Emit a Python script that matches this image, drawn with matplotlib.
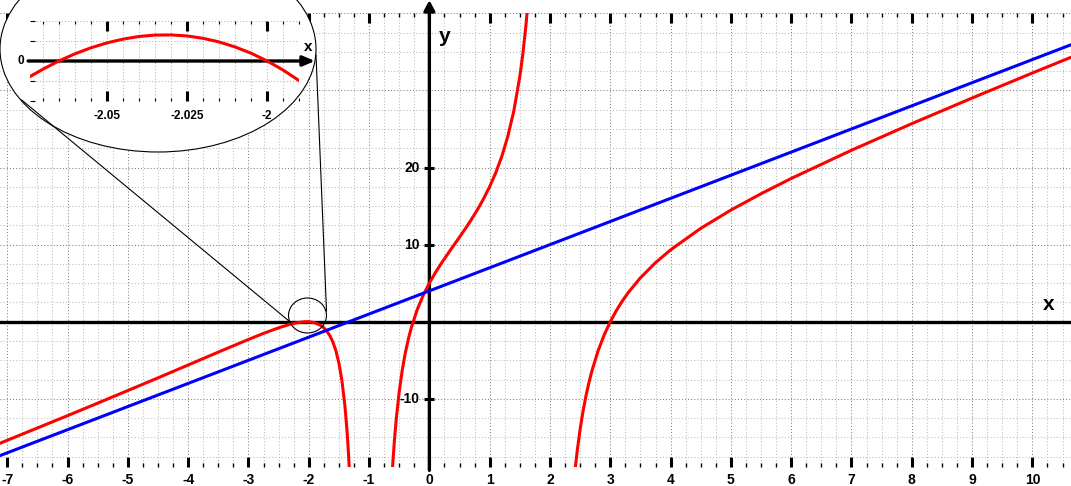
import matplotlib
matplotlib.use('Agg')
import matplotlib.pyplot as plt
from matplotlib.ticker import MultipleLocator
from matplotlib.patches import Ellipse
from matplotlib.lines import Line2D

plt.rcParams['font.family'] = ['Liberation Sans', 'DejaVu Sans']
plt.rcParams['axes.unicode_minus'] = False

# red curve, three branches
left_x = [-7.12, -6.5, -6.0, -5.5, -5.0, -4.5, -4.0, -3.5, -3.0, -2.75, -2.5, -2.3,
          -2.15, -2.065, -2.033, -2.0, -1.9, -1.8, -1.75, -1.7, -1.65, -1.6, -1.55,
          -1.5, -1.45, -1.4, -1.37, -1.355, -1.34, -1.32]
left_y = [-15.76, -13.78, -12.18, -10.56, -8.92, -7.28, -5.61, -3.94, -2.30, -1.51, -0.79, -0.31,
          -0.07, 0.0, 0.01, 0.0, -0.13, -0.48, -0.79, -1.22, -1.81, -2.63, -3.77,
          -5.36, -7.63, -10.94, -13.69, -15.35, -17.27, -20.28]

mid_x = [-0.62, -0.61, -0.58, -0.55, -0.5, -0.45, -0.4, -0.35, -0.3, -0.2, -0.1, 0.0,
         0.1, 0.2, 0.3, 0.4, 0.5, 0.6, 0.7, 0.8, 0.9, 1.0, 1.1, 1.2, 1.3, 1.4,
         1.5, 1.55, 1.6, 1.63]
mid_y = [-20.03, -18.76, -15.43, -12.69, -9.07, -6.29, -4.09, -2.29, -0.79, 1.60, 3.47, 5.02,
         6.37, 7.59, 8.74, 9.86, 10.97, 12.11, 13.30, 14.57, 15.96, 17.52, 19.30, 21.42, 24.01, 27.33,
         31.80, 34.72, 38.32, 40.93]

right_x = [2.41, 2.45, 2.5, 2.55, 2.6, 2.65, 2.7, 2.8, 2.9, 3.0, 3.1, 3.2, 3.3, 3.5,
           3.75, 4.0, 4.5, 5.0, 5.5, 6.0, 7.0, 8.0, 9.0, 10.0, 10.64]
right_y = [-19.64, -16.84, -13.94, -11.53, -9.50, -7.76, -6.25, -3.72, -1.69, 0.0, 1.44, 2.69, 3.80, 5.70,
           7.66, 9.32, 12.11, 14.48, 16.60, 18.58, 22.24, 25.69, 29.01, 32.26, 34.30]

# blue oblique asymptote
line_x = [-7.12, 10.64]
line_y = [-17.36, 35.92]

# zoomed piece around the top near x = -2.03
zoom_x = [-2.074, -2.07, -2.065, -2.06, -2.055, -2.05, -2.045, -2.04, -2.035, -2.03,
          -2.025, -2.02, -2.015, -2.01, -2.005, -2.0, -1.995, -1.99]
zoom_y = [-0.00389, -0.00206, 0.0, 0.00179, 0.00330, 0.00453, 0.00547, 0.00613, 0.00648, 0.00652,
          0.00626, 0.00567, 0.00476, 0.00351, 0.00193, 0.0, -0.00229, -0.00494]

xtick_vals = list(range(-7, 11))
xtick_labels = [str(v) for v in xtick_vals]
ytick_vals = [20, 10, -10]
ytick_labels = ['20', '10', '-10']
zoom_tick_vals = [-2.05, -2.025, -2.0]
zoom_tick_labels = ['-2.05', '-2.025', '-2']

W, H = 1071, 486


def fx(px):
    return px / W


def fy(py):
    # pixel row from the top -> figure fraction
    return 1 - py / H


fig = plt.figure(figsize=(W / 100, H / 100), dpi=100)
ax = fig.add_axes([0, fy(466.7), 1, (466.7 - 13.3) / H])
ax.set_xlim(-7.12, 10.64)
ax.set_ylim(-18.8, 40.0)
for s in ax.spines.values():
    s.set_visible(False)

ax.set_xticks(xtick_vals)
ax.set_xticklabels(xtick_labels, fontsize=10, fontweight='bold')
ax.xaxis.set_minor_locator(MultipleLocator(0.25))
ax.yaxis.set_major_locator(MultipleLocator(10))
ax.yaxis.set_minor_locator(MultipleLocator(2.5))
ax.tick_params(axis='x', which='major', direction='in', top=True, length=7.5, width=2.2, pad=4.5)
ax.tick_params(axis='x', which='minor', direction='in', top=True, length=3, width=1)
ax.tick_params(axis='y', which='both', length=0, labelleft=False)
ax.grid(True, which='major', color='#808080', lw=0.75, ls=(0, (1, 2)))
ax.grid(True, which='minor', color='#bcbcbc', lw=0.75, ls=(0, (1, 2)))
ax.set_axisbelow(True)

# axes lines
ax.axhline(0, color='black', lw=2.4, zorder=2.5)
ax.annotate('', xy=(0, 1.029), xytext=(0, -0.008), xycoords=('data', 'axes fraction'),
            arrowprops=dict(arrowstyle='-|>,head_length=0.6,head_width=0.32', color='black',
                            lw=2.4, shrinkA=0, shrinkB=0),
            annotation_clip=False, zorder=2.5)

# curves
ax.plot(left_x, left_y, color='red', lw=2.2, zorder=3)
ax.plot(mid_x, mid_y, color='red', lw=2.2, zorder=3)
ax.plot(right_x, right_y, color='red', lw=2.2, zorder=3)
ax.plot(line_x, line_y, color='blue', lw=2.2, zorder=3.5)

# y ticks drawn on the y axis
ax.plot([0] * len(ytick_vals), ytick_vals, ls='none', marker='_', ms=7.5, mew=2.2,
        color='black', zorder=4)
for v, lab in zip(ytick_vals, ytick_labels):
    ax.annotate(lab, (0, v), xytext=(-7, 0), textcoords='offset points', ha='right',
                va='center', fontsize=10, fontweight='bold')

fig.text(fx(1049), fy(304.5), 'x', ha='center', va='center', fontsize=15, fontweight='bold')
fig.text(fx(445), fy(37), 'y', ha='center', va='center', fontsize=15, fontweight='bold')

# magnifier: big ellipse, small circle and the two lines between them
big = Ellipse((fx(158), fy(49)), 316 / W, 206 / H, transform=fig.transFigure,
              facecolor='white', edgecolor='black', lw=0.8, zorder=1)
fig.add_artist(big)
small = Ellipse((fx(307.5), fy(315.5)), 38 / W, 35 / H, transform=fig.transFigure,
                fill=False, edgecolor='black', lw=0.8, zorder=1.5)
fig.add_artist(small)
fig.add_artist(Line2D([fx(21.7), fx(289)], [fy(100), fy(321)], transform=fig.transFigure,
                      color='black', lw=0.8, zorder=1.5))
fig.add_artist(Line2D([fx(316), fx(326.5)], [fy(55), fy(311)], transform=fig.transFigure,
                      color='black', lw=0.8, zorder=1.5))

# inset
ax_in = fig.add_axes([fx(30), fy(101), 269.3 / W, 80 / H])
ax_in.set_zorder(2)
ax_in.patch.set_visible(False)
for s in ax_in.spines.values():
    s.set_visible(False)
ax_in.set_xlim(-2.074, -1.99)
ax_in.set_ylim(-0.01, 0.01)
ax_in.set_xticks(zoom_tick_vals)
ax_in.set_xticklabels(zoom_tick_labels, fontsize=8.5, fontweight='bold')
ax_in.xaxis.set_minor_locator(MultipleLocator(0.005))
ax_in.yaxis.set_major_locator(MultipleLocator(0.005))
ax_in.tick_params(axis='x', which='major', direction='in', top=True, length=7.2, width=2.2, pad=6.5)
ax_in.tick_params(axis='x', which='minor', direction='in', top=True, length=2.5, width=0.8)
ax_in.tick_params(axis='y', which='major', direction='in', length=3.6, width=0.8, labelleft=False)
ax_in.grid(True, which='both', color='#b4b4b4', lw=0.75, ls=(0, (1, 2)))
ax_in.set_axisbelow(True)

ax_in.annotate('', xy=(1.058, 0), xytext=(-0.007, 0), xycoords=('axes fraction', 'data'),
               arrowprops=dict(arrowstyle='-|>,head_length=0.7,head_width=0.3', color='black',
                               lw=2.4, shrinkA=0, shrinkB=0),
               annotation_clip=False, zorder=2)
ax_in.plot(zoom_x, zoom_y, color='red', lw=2.2, zorder=3)
ax_in.annotate('0', (0, 0), xycoords=('axes fraction', 'data'), xytext=(-4.3, 0),
               textcoords='offset points', ha='right', va='center', fontsize=8.5, fontweight='bold')
fig.text(fx(308.5), fy(47), 'x', ha='center', va='center', fontsize=11, fontweight='bold', zorder=3)

fig.savefig('out.png', dpi=100)
